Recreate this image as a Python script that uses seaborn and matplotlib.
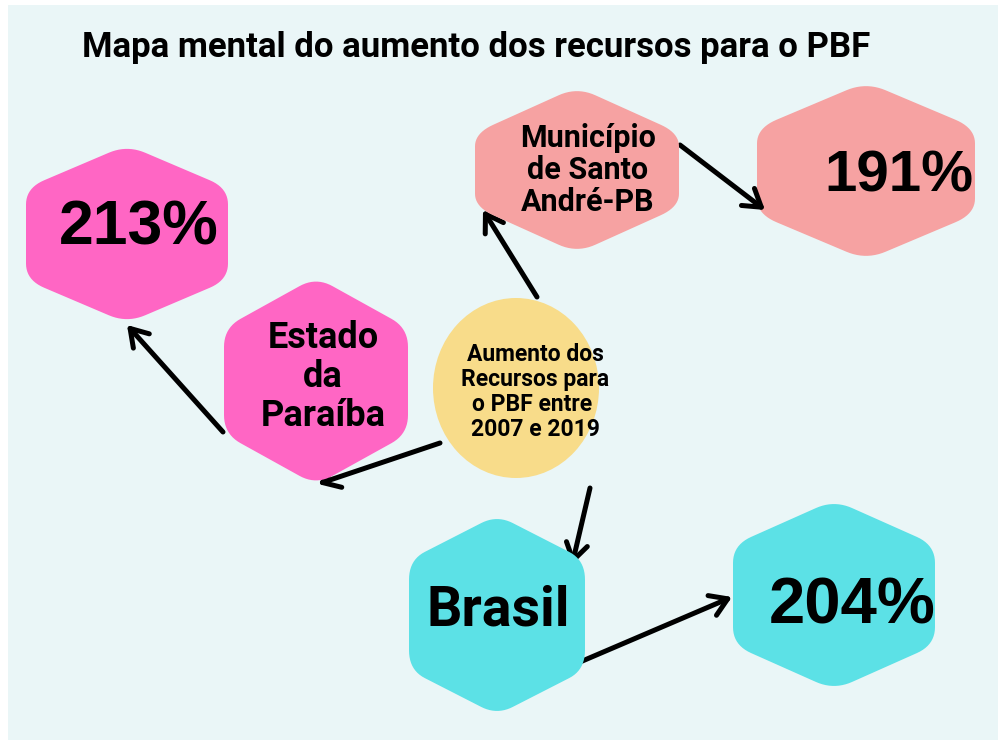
"""
Mapa mental do aumento dos recursos para o PBF (2007-2019)
Recriação com seaborn/matplotlib: hexágonos, círculo central e setas.
"""

import matplotlib.pyplot as plt
import numpy as np
import seaborn as sns
from matplotlib.patches import Ellipse, Polygon, Rectangle

# Dados do mapa mental
TITULO = "Mapa mental do aumento dos recursos para o PBF"
CENTRO = "Aumento dos\nRecursos para\no PBF entre \n2007 e 2019"
ESFERAS = ["Estado\nda\nParaíba", "Município\nde Santo\nAndré-PB", "Brasil"]
AUMENTOS = [213, 191, 204]  # aumento percentual dos recursos

# Cores
COR_FUNDO = "#EAF6F7"
COR_CENTRO = "#F8DC8A"
CORES = ["#FF66C4", "#F6A2A2", "#5CE1E6"]

# Layout em pixels (x, y, meia-largura, meia-altura, meio-lado vertical)
HEX_ESFERA = [(316, 381, 92, 104, 53), (577, 170, 102, 83, 37), (497, 615, 88, 100, 55)]
HEX_VALOR = [(127, 234, 101, 89, 46), (866, 171, 109, 89, 43), (834, 595, 101, 95, 50)]
TXT_ESFERA = [(323, 377, 26), (588, 170, 22), (498, 611, 40)]
TXT_VALOR = [(139, 228, 45), (899, 176, 42), (852, 607, 47)]
SETAS_CENTRO = [((440, 443), (318, 484)), ((537, 297), (483, 210)), ((590, 488), (572, 565))]
SETAS_VALOR = [((223, 432), (127, 325)), ((680, 145), (765, 210)), ((580, 662), (732, 597))]


def hexagono(cx, cy, hw, hh, s, raio=0.18, n=12):
    """Hexágono de pontas em cima/baixo com cantos arredondados."""
    v = np.array([(cx, cy - hh), (cx + hw, cy - s), (cx + hw, cy + s),
                  (cx, cy + hh), (cx - hw, cy + s), (cx - hw, cy - s)])
    pts = []
    t = np.linspace(0, 1, n)[:, None]
    for i in range(len(v)):
        p, c, q = v[i - 1], v[i], v[(i + 1) % len(v)]
        a = c + (p - c) * raio
        b = c + (q - c) * raio
        pts.append((1 - t) ** 2 * a + 2 * (1 - t) * t * c + t ** 2 * b)
    return np.vstack(pts)


def seta(ax, ini, fim):
    ax.annotate("", xy=fim, xytext=ini,
                arrowprops=dict(arrowstyle="->,head_length=0.55,head_width=0.35",
                                color="black", lw=3.6, mutation_scale=22,
                                shrinkA=0, shrinkB=0))


def main():
    sns.set_theme(style="white")
    plt.rcParams["font.family"] = ["Roboto", "DejaVu Sans"]
    plt.rcParams["text.color"] = "black"

    fig = plt.figure(figsize=(9.98, 7.4), dpi=100)
    ax = fig.add_axes([0, 0, 1, 1])
    ax.set_xlim(0, 998)
    ax.set_ylim(740, 0)
    ax.axis("off")
    fig.patch.set_facecolor("white")

    ax.add_patch(Rectangle((8, 5), 990, 735, facecolor=COR_FUNDO, edgecolor="none", zorder=0))

    ax.text(82, 47, TITULO, fontsize=25, fontweight="bold", ha="left", va="center",
            color="black", zorder=5)

    # Setas por baixo das formas
    for ini, fim in SETAS_CENTRO + SETAS_VALOR:
        seta(ax, ini, fim)

    for geo, cor in zip(HEX_VALOR, CORES):
        ax.add_patch(Polygon(hexagono(*geo), closed=True, facecolor=cor, edgecolor="none", zorder=1))
    for geo, cor in zip(HEX_ESFERA, CORES):
        ax.add_patch(Polygon(hexagono(*geo), closed=True, facecolor=cor, edgecolor="none", zorder=3))

    ax.add_patch(Ellipse((516, 388), 166, 180, facecolor=COR_CENTRO, edgecolor="none", zorder=3))
    ax.text(535, 392, CENTRO, fontsize=16.5, fontweight="bold", ha="center", va="center",
            linespacing=1.12, color="black", zorder=4)

    for nome, (x, y, fs) in zip(ESFERAS, TXT_ESFERA):
        ax.text(x, y, nome, fontsize=fs, fontweight="bold", ha="center", va="center",
                linespacing=1.1, color="black", zorder=4)

    for valor, (x, y, fs) in zip(AUMENTOS, TXT_VALOR):
        ax.text(x, y, f"{valor}%", fontsize=fs, fontweight="bold", ha="center", va="center",
                family=["Liberation Sans", "DejaVu Sans"], color="black", zorder=4)

    fig.savefig("out.png", dpi=100, facecolor=fig.get_facecolor())
    plt.close(fig)


if __name__ == "__main__":
    main()
